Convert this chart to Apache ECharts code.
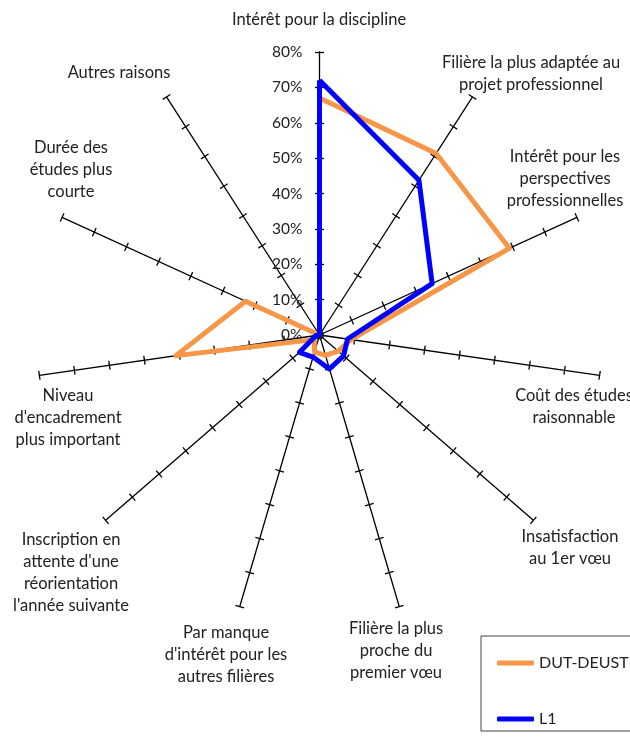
<!DOCTYPE html>
<html lang="fr">
<head>
<meta charset="UTF-8">
<script src="https://cdn.jsdelivr.net/npm/echarts@6/dist/echarts.min.js"></script>
<title>Motifs d'inscription</title>
<style>html, body { margin: 0; padding: 0; background: #fff; }</style>
</head>
<body>
<div id="main" style="width: 630px;height: 742px"></div>
<script type="text/javascript">
    // axes dans le sens des aiguilles d'une montre, en partant du haut
    var categories = [
        "Intérêt pour la discipline",
        "Filière la plus adaptée au\nprojet professionnel",
        "Intérêt pour les\nperspectives\nprofessionnelles",
        "Coût des études\nraisonnable",
        "Insatisfaction\nau 1er vœu",
        "Filière la plus\nproche du\npremier vœu",
        "Par manque\nd'intérêt pour les\nautres filières",
        "Inscription en\nattente d'une\nréorientation\nl'année suivante",
        "Niveau\nd'encadrement\nplus important",
        "Durée des\nétudes plus\ncourte",
        "Autres raisons"
    ];
    var dutDeust = [0.67, 0.61, 0.59, 0.09, 0.07, 0.06, 0.05, 0.02, 0.41, 0.23, 0.00];
    var l1 = [0.72, 0.52, 0.35, 0.08, 0.09, 0.10, 0.065, 0.075, 0.01, 0.00, 0.00];
    var tickLabels = ["0%", "10%", "20%", "30%", "40%", "50%", "60%", "70%", "80%"];

    // centre des libellés (mise en page)
    var labelPos = [
        [319, 20], [531, 74], [565, 179], [574, 407], [570, 548], [396, 651],
        [226, 655], [71, 573], [68, 418], [71, 170], [119, 73]
    ];

    var cx = 319.5, cy = 335, R = 283;
    var font = "Lato, 'Open Sans', sans-serif";

    // echarts place les indicateurs dans le sens inverse : on inverse l'ordre
    function ccw(arr) {
        return [arr[0]].concat(arr.slice(1).reverse());
    }

    var indicators = ccw(categories).map(function (c) {
        return {name: c, min: 0, max: 0.8};
    });

    // deux radars superposés : graduations de part et d'autre de l'axe
    function radarAxes(tickLen, showLine) {
        return {
            center: [cx, cy],
            radius: R,
            startAngle: 90,
            splitNumber: 8,
            shape: "polygon",
            indicator: indicators,
            axisName: {show: false},
            axisLine: {show: showLine, lineStyle: {color: "#000", width: 1.3}},
            axisTick: {show: true, length: tickLen, lineStyle: {color: "#000", width: 1.3}},
            axisLabel: {show: false},
            splitLine: {show: false},
            splitArea: {show: false}
        };
    }

    var myChart = echarts.init(document.getElementById("main"));

    myChart.setOption({
        animation: false,
        textStyle: {fontFamily: font},
        legend: {
            orient: "vertical",
            left: 481,
            top: 636,
            padding: [19, 120, 4, 16],
            itemGap: 40,
            itemWidth: 37,
            itemHeight: 5,
            icon: "roundRect",
            borderColor: "#444",
            borderWidth: 1,
            textStyle: {fontSize: 16, color: "#222", fontFamily: font},
            data: ["DUT-DEUST", "L1"]
        },
        grid: {left: cx, top: cy - R, height: R, width: 1},
        xAxis: {type: "value", show: false},
        yAxis: {
            type: "category",
            data: tickLabels,
            boundaryGap: false,
            axisLine: {show: false},
            axisTick: {show: false},
            splitLine: {show: false},
            axisLabel: {margin: 17, fontSize: 15.5, color: "#222", fontFamily: font}
        },
        radar: [radarAxes(4.5, true), radarAxes(-4.5, false)],
        graphic: categories.map(function (c, i) {
            return {
                type: "text",
                x: labelPos[i][0],
                y: labelPos[i][1],
                style: {
                    text: c,
                    font: "16.5px " + font,
                    fill: "#222",
                    align: "center",
                    verticalAlign: "middle",
                    lineHeight: 22
                }
            };
        }),
        series: [{
            type: "radar",
            radarIndex: 0,
            symbol: "none",
            data: [
                {name: "DUT-DEUST", value: ccw(dutDeust),
                    itemStyle: {color: "#F79646"},
                    lineStyle: {color: "#F79646", width: 5}},
                {name: "L1", value: ccw(l1),
                    itemStyle: {color: "#0000FF"},
                    lineStyle: {color: "#0000FF", width: 5}}
            ]
        }]
    });
</script>
</body>
</html>
